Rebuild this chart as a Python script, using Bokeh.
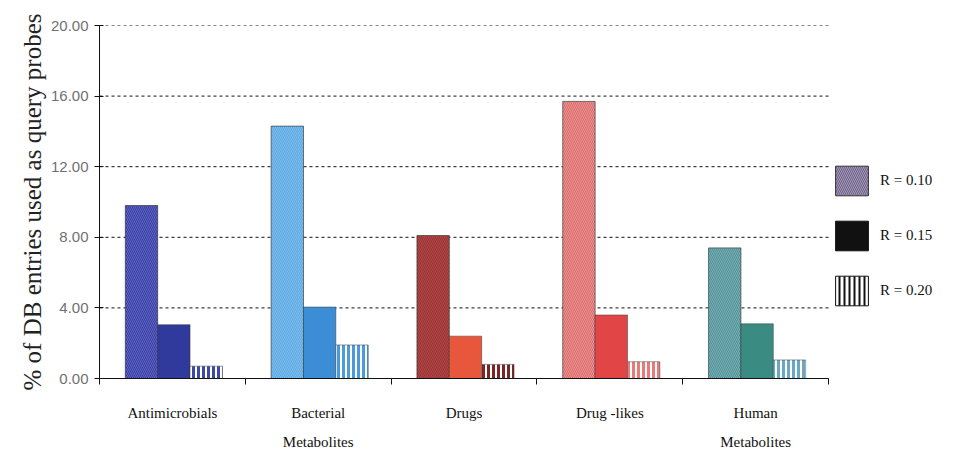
from bokeh.plotting import figure
from bokeh.models import (ColumnDataSource, Range1d, FixedTicker, NumeralTickFormatter,
                          Legend, LegendItem)
from bokeh.embed import file_html
from bokeh.resources import INLINE

categories = ["Antimicrobials", "Bacterial\nMetabolites", "Drugs", "Drug -likes", "Human\nMetabolites"]
series_labels = ["R = 0.10", "R = 0.15", "R = 0.20"]
r010 = [9.8, 14.3, 8.1, 15.7, 7.4]
r015 = [3.05, 4.05, 2.4, 3.6, 3.1]
r020 = [0.7, 1.9, 0.8, 0.95, 1.05]
y_ticks = [0, 4, 8, 12, 16, 20]

# styles
c010 = ["#3a3fa6", "#5ca9e4", "#9c3333", "#f28e8e", "#74afb5"]
h010 = ["#8a8fe0", "#a8d4f4", "#c46060", "#b04a4a", "#2e6a70"]
c015 = ["#2f3a9c", "#3b8ed6", "#e8563b", "#e24545", "#3a8c82"]
c020 = ["#3d49a6", "#4a9adc", "#7a2626", "#e87a7a", "#6aa6c6"]
bar_w = 0.222
offsets = [-0.212, 0.01, 0.232]
n = len(categories)

# frame spans to the right edge so the legend (inside the frame) is not clipped;
# the category axis and grid stop at n
p = figure(width=959, height=458, output_backend="svg", toolbar_location=None,
           x_range=Range1d(0, 5.898), y_range=Range1d(0, 20),
           min_border_left=99, min_border_right=0, min_border_top=25, min_border_bottom=80)
p.outline_line_color = None
p.background_fill_color = "white"

xc = [i + 0.5 for i in range(n)]

# grid lines (bounded to the category axis)
p.segment(x0=[0] * len(y_ticks), x1=[n] * len(y_ticks), y0=y_ticks, y1=y_ticks,
          line_color="#111111", line_dash="3 3", line_width=1)

src1 = ColumnDataSource(dict(x=[x + offsets[0] for x in xc], top=r010, fill=c010, hatch=h010))
src2 = ColumnDataSource(dict(x=[x + offsets[1] for x in xc], top=r015, fill=c015))
src3 = ColumnDataSource(dict(x=[x + offsets[2] for x in xc], top=r020, fill=c020))

p.vbar(x="x", top="top", bottom=0, width=bar_w, source=src1, fill_color="fill",
       hatch_pattern="left_diagonal_line", hatch_color="hatch", hatch_alpha=0.45,
       hatch_scale=4, hatch_weight=1, line_color="#333333", line_width=0.8, line_alpha=0.8)
p.vbar(x="x", top="top", bottom=0, width=bar_w, source=src2, fill_color="fill",
       line_color="#333333", line_width=0.8, line_alpha=0.6)
p.vbar(x="x", top="top", bottom=0, width=bar_w, source=src3, fill_color="white",
       hatch_pattern="vertical_line", hatch_color="fill", hatch_scale=5, hatch_weight=3,
       line_color="#333333", line_width=0.8, line_alpha=0.6)

# legend proxies (placed outside the visible range)
l1 = p.vbar(x=[-10], top=[0], width=0.1, fill_color="#6e6288", hatch_pattern="left_diagonal_line",
            hatch_color="#c8bcd8", hatch_alpha=0.6, hatch_scale=4, hatch_weight=1,
            line_color="#333333")
l2 = p.vbar(x=[-10], top=[0], width=0.1, fill_color="#111111", line_color="#111111")
l3 = p.vbar(x=[-10], top=[0], width=0.1, fill_color="white", hatch_pattern="vertical_line",
            hatch_color="#111111", hatch_scale=5, hatch_weight=2, line_color="#111111")
legend = Legend(items=[LegendItem(label=series_labels[0], renderers=[l1]),
                       LegendItem(label=series_labels[1], renderers=[l2]),
                       LegendItem(label=series_labels[2], renderers=[l3])],
                location=(732, 69), glyph_width=41, glyph_height=37, spacing=18,
                padding=0, margin=0, label_standoff=8,
                border_line_color=None, background_fill_alpha=0,
                label_text_font="Liberation Serif", label_text_font_size="15px",
                label_text_color="#111111")
p.add_layout(legend, "center")

# y axis
p.yaxis.ticker = FixedTicker(ticks=y_ticks)
p.yaxis.formatter = NumeralTickFormatter(format="0.00")
p.yaxis.major_label_text_font = "Liberation Sans"
p.yaxis.major_label_text_font_size = "15px"
p.yaxis.major_label_text_color = "#707070"
p.yaxis.major_tick_in = 4
p.yaxis.major_tick_out = 5
p.yaxis.major_label_standoff = 6
p.yaxis.minor_tick_line_color = None
p.yaxis.axis_line_color = "#111111"
p.yaxis.major_tick_line_color = "#111111"
p.yaxis.axis_label = "% of DB entries used as query probes"
p.yaxis.axis_label_text_font = "Liberation Serif"
p.yaxis.axis_label_text_font_size = "25px"
p.yaxis.axis_label_text_font_style = "normal"
p.yaxis.axis_label_text_color = "#222222"
p.yaxis.axis_label_standoff = 2

# x axis: labels at centers, boundary ticks as minor ticks
p.xaxis.bounds = (0, n)
p.xaxis.ticker = FixedTicker(ticks=xc, minor_ticks=list(range(n + 1)))
p.xaxis.major_label_overrides = {x: c for x, c in zip(xc, categories)}
p.xaxis.major_tick_line_color = None
p.xaxis.minor_tick_in = 0
p.xaxis.minor_tick_out = 6
p.xaxis.minor_tick_line_color = "#111111"
p.xaxis.axis_line_color = "#111111"
p.xaxis.major_label_text_font = "Liberation Serif"
p.xaxis.major_label_text_font_size = "15px"
p.xaxis.major_label_text_color = "#111111"
p.xaxis.major_label_standoff = 20
p.xaxis.major_label_text_line_height = 1.85

p.xgrid.grid_line_color = None
p.ygrid.grid_line_color = None

open("out.html", "w").write(file_html(p, INLINE))
